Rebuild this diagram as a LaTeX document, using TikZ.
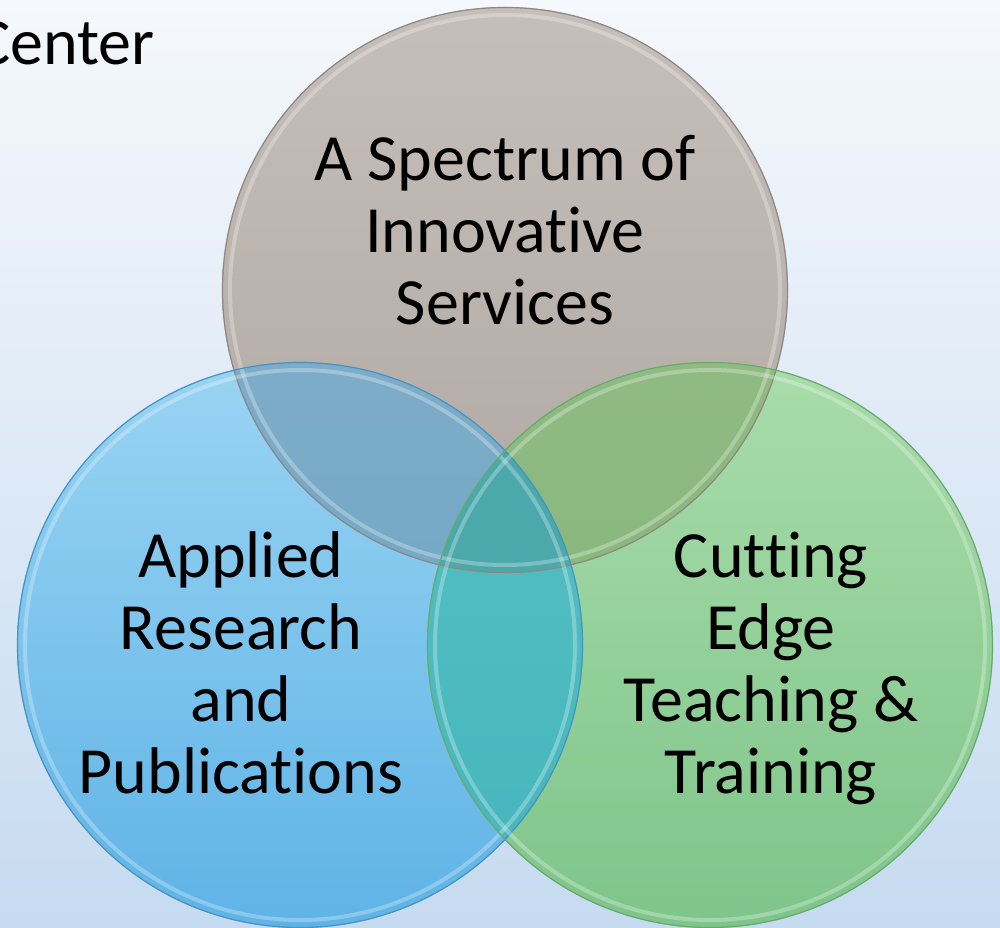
\documentclass[tikz,border=0pt]{standalone}
\usepackage{fontspec}
\setmainfont{Carlito}[Ligatures=NoCommon]
\definecolor{bgtop}{HTML}{F5F8FC}
\definecolor{bgbot}{HTML}{C6DBF0}
\definecolor{grayT}{HTML}{C6BFB9}
\definecolor{grayB}{HTML}{B0A8A2}
\definecolor{grayE}{HTML}{8F8782}
\definecolor{blueT}{HTML}{9AD4F3}
\definecolor{blueB}{HTML}{5EB3E6}
\definecolor{blueE}{HTML}{4A92BE}
\definecolor{greenT}{HTML}{A9DCA9}
\definecolor{greenB}{HTML}{7EC58A}
\definecolor{greenE}{HTML}{68A96E}
\definecolor{tbT}{HTML}{7DACC8}
\definecolor{tbB}{HTML}{67A4C2}
\definecolor{tgT}{HTML}{8FBB82}
\definecolor{tgB}{HTML}{82B276}
\definecolor{bgT}{HTML}{55C0C4}
\definecolor{bgB}{HTML}{45B6BC}
\definecolor{tri}{HTML}{4BA9AC}
\begin{document}
\begin{tikzpicture}[x=1pt,y=1pt,
  lbl/.style={font=\fontsize{66}{72}\selectfont, align=center, text=black, inner sep=0pt},
  rim/.style={line width=1.2pt},
  glint/.style={line width=4pt, white, opacity=0.28}]
\useasboundingbox (0,0) rectangle (1000,927);
\clip (0,0) rectangle (1000,927);
\shade[top color=bgtop, bottom color=bgbot] (0,0) rectangle (1000,927);
\coordinate (T) at (505,637);
\coordinate (L) at (300,282);
\coordinate (R) at (710,282);
% base circles
\shade[top color=grayT, bottom color=grayB] (T) circle (283);
\shade[top color=blueT, bottom color=blueB] (L) circle (283);
\shade[top color=greenT, bottom color=greenB] (R) circle (283);
% overlaps
\begin{scope}
  \clip (L) circle (283);
  \shade[top color=bgT, bottom color=bgB] (R) circle (283);
\end{scope}
\begin{scope}
  \clip (T) circle (283);
  \shade[top color=tbT, bottom color=tbB] (L) circle (283);
  \shade[top color=tgT, bottom color=tgB] (R) circle (283);
  \clip (L) circle (283);
  \fill[tri] (R) circle (283);
\end{scope}
% bevel highlights and rims
\foreach \c/\e in {T/grayE, L/blueE, R/greenE}{
  \draw[glint] (\c) circle (275);
  \draw[rim, \e] (\c) circle (282.5);
}
% labels (anchor base = baseline of last line)
\node[lbl, anchor=base] (ts) at (505,602) {A Spectrum of\\Innovative\\Services};
\node[lbl, anchor=base] (ls) at (241,134) {Applied\\Research\\and\\Publications};
\node[lbl, anchor=base] (rs) at (771,134) {Cutting\\Edge\\Teaching \&\\Training};
\node[lbl, anchor=base east] (ct) at (155,862) {Center};
\end{tikzpicture}
\end{document}
